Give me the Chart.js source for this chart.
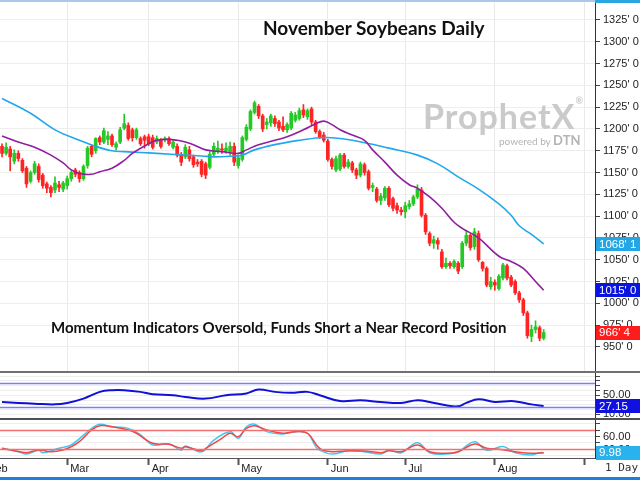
<!DOCTYPE html>
<html>
<head>
<meta charset="utf-8">
<script src="https://cdn.jsdelivr.net/npm/chart.js@4.4.1/dist/chart.umd.min.js"></script>
<style>
  html, body { margin: 0; padding: 0; background: #fff; }
  #wrap { position: relative; width: 640px; height: 480px; overflow: hidden; background: #fff; }
  canvas { position: absolute; left: 0; }
  #priceCanvas { top: 0; }
  #rsiCanvas { top: 373px; }
  #stochCanvas { top: 420px; }
  .bar { position: absolute; left: 0; width: 640px; }
  .txt { position: absolute; white-space: nowrap; font-family: Lato, "Open Sans", sans-serif; font-weight: bold; color: #111; }
</style>
</head>
<body>
<div id="wrap">
  <canvas id="priceCanvas" width="640" height="371"></canvas>
  <canvas id="rsiCanvas" width="640" height="45"></canvas>
  <canvas id="stochCanvas" width="640" height="58"></canvas>

  <div class="bar" style="top:0;height:2px;background:#a9c8ee;"></div>
  <div class="bar" style="top:0;left:595px;width:45px;height:3px;background:#2aa7e3;"></div>
  <div class="bar" style="top:371px;height:2px;background:#707070;"></div>
  <div class="bar" style="top:418px;height:2px;background:#505050;"></div>
  <div class="bar" style="top:477px;height:3px;background:#1f7fe0;"></div>

  <div class="txt" style="left:263px;top:16px;font-size:19px;">November Soybeans Daily</div>
  <div class="txt" style="left:51px;top:318px;font-size:15px;">Momentum Indicators Oversold, Funds Short a Near Record Position</div>
  <div class="txt" style="left:423px;top:95px;font-size:34px;color:#cacaca;letter-spacing:1px;">ProphetX<span style="font-size:9px;vertical-align:top;">&reg;</span></div>
  <div class="txt" style="left:499px;top:132px;font-size:10px;font-weight:normal;color:#b4b4b4;">powered by <span style="font-weight:bold;font-size:13px;">DTN</span></div>
  <div class="txt" style="left:605px;top:461px;font-size:11px;font-weight:normal;color:#333;font-family:'DejaVu Sans Mono', monospace;">1 Day</div>
</div>

<script>
  // November soybeans daily candles, Feb 7 – Aug 19 (trading day index 0..133)
  const openPrices = [
    1180, 1172, 1177, 1163, 1172, 1164, 1155, 1140, 1150, 1157, 1147, 1137, 1133, 1130, 1136, 1131,
    1135, 1143, 1153, 1150, 1143, 1158, 1180, 1175, 1190, 1185, 1188, 1192, 1179, 1185, 1201, 1204, 1199, 1190, 1189, 1191,
    1191, 1190, 1185, 1187, 1188, 1189, 1179, 1180, 1171, 1168, 1176, 1168, 1162, 1163, 1160, 1156, 1171, 1175, 1177, 1175, 1173, 1180,
    1158, 1165, 1188, 1200, 1219, 1226, 1215, 1205, 1207, 1212, 1208, 1203, 1199, 1201, 1210, 1212, 1222, 1214, 1223, 1208, 1197, 1193,
    1186, 1165, 1153, 1154, 1170, 1157, 1161, 1153, 1147, 1159, 1151, 1133, 1131, 1118, 1121, 1132, 1120, 1112, 1107,
    1105, 1111, 1114, 1122, 1130, 1101, 1080, 1069, 1072, 1059, 1042, 1046, 1042, 1046, 1042, 1069, 1078, 1065, 1080, 1047, 1040, 1019,
    1024, 1017, 1029, 1043, 1030, 1025, 1012, 1004, 989, 962, 970, 972, 960
  ];
  const highPrices = [
    1183, 1184, 1180, 1176, 1175, 1166, 1157, 1152, 1163, 1160, 1149, 1139, 1135, 1145, 1140, 1140,
    1146, 1152, 1155, 1152, 1159, 1180, 1182, 1190, 1192, 1201, 1197, 1194, 1185, 1202, 1217, 1207, 1201, 1201, 1191, 1193,
    1194, 1193, 1192, 1189, 1191, 1191, 1187, 1183, 1173, 1182, 1180, 1170, 1165, 1165, 1162, 1174, 1184, 1186, 1183, 1184, 1185, 1184,
    1170, 1192, 1205, 1222, 1232, 1228, 1217, 1212, 1217, 1215, 1210, 1214, 1207, 1220, 1219, 1224, 1228, 1223, 1225, 1210, 1199, 1196,
    1188, 1167, 1169, 1172, 1172, 1165, 1163, 1155, 1162, 1161, 1153, 1138, 1133, 1126, 1134, 1134, 1122, 1115, 1110,
    1116, 1118, 1124, 1136, 1133, 1103, 1082, 1077, 1075, 1062, 1052, 1048, 1050, 1048, 1071, 1083, 1080, 1086, 1083, 1048, 1042, 1030,
    1027, 1033, 1046, 1045, 1032, 1027, 1014, 1006, 991, 975, 980, 974, 970
  ];
  const lowPrices = [
    1168, 1170, 1152, 1160, 1163, 1150, 1133, 1138, 1148, 1139, 1132, 1127, 1122, 1127, 1128, 1128,
    1131, 1140, 1145, 1139, 1141, 1155, 1168, 1172, 1182, 1183, 1182, 1180, 1176, 1183, 1199, 1187, 1186, 1188, 1181, 1178,
    1181, 1177, 1183, 1178, 1185, 1181, 1177, 1168, 1158, 1166, 1163, 1156, 1157, 1145, 1143, 1154, 1168, 1172, 1172, 1172, 1170, 1158,
    1155, 1163, 1186, 1198, 1217, 1212, 1197, 1200, 1203, 1203, 1198, 1197, 1196, 1199, 1208, 1210, 1213, 1211, 1205, 1195, 1189, 1185,
    1163, 1154, 1151, 1152, 1155, 1155, 1150, 1143, 1145, 1147, 1130, 1128, 1116, 1113, 1118, 1111, 1106, 1103, 1101,
    1098, 1108, 1112, 1120, 1099, 1079, 1066, 1063, 1062, 1040, 1040, 1040, 1040, 1034, 1040, 1066, 1061, 1062, 1048, 1037, 1019, 1016,
    1015, 1015, 1027, 1027, 1019, 1010, 1001, 986, 960, 956, 966, 957, 958
  ];
  const closePrices = [
    1172, 1179, 1168, 1172, 1166, 1152, 1137, 1150, 1160, 1142, 1135, 1132, 1127, 1138, 1133, 1138,
    1143, 1150, 1148, 1143, 1157, 1178, 1171, 1189, 1185, 1198, 1192, 1182, 1183, 1199, 1206, 1189, 1190, 1199, 1183, 1187,
    1183, 1179, 1189, 1180, 1189, 1183, 1185, 1170, 1162, 1179, 1166, 1159, 1160, 1148, 1147, 1171, 1180, 1178, 1176, 1178, 1180, 1162,
    1167, 1190, 1202, 1220, 1230, 1215, 1200, 1208, 1215, 1206, 1201, 1199, 1205, 1218, 1216, 1221, 1216, 1221, 1208, 1197, 1191, 1187,
    1165, 1157, 1166, 1170, 1157, 1162, 1153, 1147, 1160, 1150, 1132, 1135, 1118, 1123, 1132, 1113, 1109, 1107, 1105,
    1112, 1114, 1122, 1131, 1101, 1082, 1069, 1073, 1068, 1042, 1046, 1043, 1048, 1037, 1069, 1078, 1064, 1082, 1050, 1040, 1021, 1025,
    1021, 1031, 1044, 1029, 1021, 1012, 1004, 989, 963, 970, 973, 960, 966.5
  ];

  // moving averages (index, price)
  const ma20Idx = [0, 4, 8, 12, 15, 17, 19, 22, 24, 27, 30, 32, 36, 38, 41, 43, 45, 47, 50, 54, 58, 60, 63, 67, 70, 74, 77, 79, 81, 83, 86, 89, 91, 94, 97, 100, 102, 105, 108, 111, 113, 117, 122, 125, 128, 131, 133];
  const ma20Val = [1192, 1185, 1179, 1170, 1161, 1153, 1149, 1148, 1151, 1155, 1164, 1172, 1183, 1187, 1188, 1187, 1185, 1182, 1176, 1174, 1172, 1176, 1182, 1187, 1191, 1199, 1206, 1209, 1205, 1199, 1193, 1187, 1176, 1162, 1147, 1136, 1132, 1122, 1109, 1093, 1086, 1075, 1054, 1048, 1040, 1025, 1015];
  const ma50Idx = [0, 7, 13, 19, 23, 27, 30, 34, 38, 45, 49, 52, 57, 59, 62, 67, 73, 78, 81, 86, 95, 102, 107, 112, 117, 122, 125, 127, 130, 133];
  const ma50Val = [1235, 1218, 1199, 1187, 1180, 1175, 1174, 1173, 1172, 1170, 1169, 1168, 1169, 1170, 1176, 1182, 1187, 1190, 1190, 1187, 1178, 1170, 1160, 1145, 1131, 1114, 1101, 1089, 1079, 1068.125];

  // momentum (RSI-style) panel
  const rsiIdx = [0, 4, 8, 13, 16, 20, 24, 27, 30, 34, 37, 42, 45, 50, 55, 60, 63, 67, 71, 75, 78, 83, 88, 93, 98, 102, 105, 109, 112, 114, 117, 121, 125, 127, 130, 133];
  const rsiVal = [36, 34, 32.5, 31, 34, 43, 57, 60.5, 60.5, 57, 52, 50, 46.4, 43, 50, 53.6, 62, 57, 55, 57, 50, 38, 39.5, 36, 34, 39.5, 36, 29, 27, 34, 41.6, 36, 38, 36, 31, 27.15];
  const rsiBands = [25, 75];

  // stochastic panel
  const stochKIdx = [0, 4, 6, 9, 10, 14, 17, 22, 24, 27, 31, 34, 37, 41, 44, 45, 49, 52, 56, 58, 60, 62, 65, 69, 72, 75, 77, 78, 81, 85, 89, 93, 95, 98, 102, 105, 109, 112, 116, 119, 123, 126, 130, 132, 133];
  const stochKVal = [24, 13, 6, 18, 10, 24, 34, 85, 98, 90, 85, 65, 34, 37, 18, 31, 13, 49, 75, 54, 90, 98, 75, 68, 75, 70, 29, 18, 6, 16, 13, 6, 18, 10, 41, 10, 6, 13, 44, 18, 29, 10, 3, 10, 9.98];
  const stochDIdx = [0, 3, 6, 9, 12, 15, 17, 19, 22, 24, 27, 31, 33, 37, 41, 44, 45, 49, 50, 54, 56, 58, 60, 62, 65, 69, 72, 75, 78, 81, 85, 89, 93, 95, 98, 102, 105, 109, 112, 116, 119, 122, 126, 130, 133];
  const stochDVal = [23.6, 16.3, 10.3, 18.5, 13.3, 18.5, 28.7, 44, 80, 93, 90, 80, 70, 39, 36, 23.6, 28.7, 16.3, 23.6, 54.5, 70, 59.5, 85, 93, 80, 70, 75, 70, 23.6, 13.3, 16.3, 15.4, 10.3, 16.3, 13.3, 34, 13.3, 8.3, 13.3, 37, 23.6, 20.6, 13.3, 8.3, 10.3];
  const stochBands = [20, 80];

  // axes
  const priceTicks = [950, 975, 1000, 1025, 1050, 1075, 1100, 1125, 1150, 1175, 1200, 1225, 1250, 1275, 1300, 1325];
  const rsiTicks = [0, 10, 20, 30, 40, 50, 60, 70, 80, 90];
  const rsiLabelled = [10, 50];
  const stochTicks = [0, 20, 40, 60, 80, 100];
  const stochLabelled = [20, 60];
  const monthLabels = ['Feb', 'Mar', 'Apr', 'May', 'Jun', 'Jul', 'Aug', 'Sep'];
  const monthStart = [-4, 16, 36, 58, 80, 99, 121, 143];

  const X_MIN = -0.5;
  const X_MAX = 145.6;
  const AXIS_W = 45;
  const UP = '#25c825';
  const DOWN = '#ff2323';
  const AXIS_FONT = { family: "'Liberation Sans', Arial, sans-serif", size: 11 };

  function points(xs, ys) {
    return xs.map((x, i) => ({ x, y: ys[i] }));
  }

  function fmtPrice(v) {
    const whole = Math.floor(v);
    return whole + "' " + Math.round((v - whole) * 8);
  }

  function candleColor(ctx) {
    return closePrices[ctx.dataIndex] >= openPrices[ctx.dataIndex] ? UP : DOWN;
  }

  function hiddenX() {
    return {
      type: 'linear', min: X_MIN, max: X_MAX, offset: false,
      afterBuildTicks: (s) => { s.ticks = monthStart.map((v) => ({ value: v })); },
      ticks: { display: false },
      border: { display: false },
      grid: { display: false, offset: false },
      afterFit: (s) => { s.height = 0; },
    };
  }

  function rightAxis(min, max, tickValues, label) {
    return {
      position: 'right', min, max,
      afterBuildTicks: (s) => { s.ticks = tickValues.map((v) => ({ value: v })); },
      ticks: { autoSkip: false, color: '#222', font: AXIS_FONT, padding: 3, callback: label },
      grid: { color: '#eeeeee', tickLength: 5, tickColor: '#444' },
      border: { display: true, color: '#333', width: 1 },
      afterFit: (s) => { s.width = AXIS_W; s.paddingTop = 0; s.paddingBottom = 0; },
    };
  }

  // value tags in the right axis + horizontal band lines
  const decor = {
    id: 'decor',
    afterDatasetsDraw(chart, args, opts) {
      const { ctx, chartArea } = chart;
      const y = chart.scales.y;
      (opts.bands || []).forEach((b) => {
        const py = Math.round(y.getPixelForValue(b)) + 0.5;
        ctx.save();
        ctx.strokeStyle = opts.bandColor;
        ctx.lineWidth = 1.5;
        ctx.beginPath();
        ctx.moveTo(chartArea.left, py);
        ctx.lineTo(chartArea.right, py);
        ctx.stroke();
        ctx.restore();
      });
    },
    afterDraw(chart, args, opts) {
      const { ctx, chartArea } = chart;
      const y = chart.scales.y;
      (opts.tags || []).forEach((t) => {
        const py = y.getPixelForValue(t.value);
        ctx.save();
        ctx.fillStyle = t.bg;
        ctx.fillRect(chartArea.right + 1, Math.round(py - 7), AXIS_W, 14);
        ctx.fillStyle = t.fg;
        ctx.font = '11.5px ' + AXIS_FONT.family;
        ctx.textBaseline = 'middle';
        ctx.fillText(t.text, chartArea.right + 4, py + 0.5);
        ctx.restore();
      });
      if (opts.monthText) {
        const x = chart.scales.x;
        ctx.save();
        ctx.font = '11px ' + AXIS_FONT.family;
        ctx.fillStyle = '#222';
        ctx.textBaseline = 'middle';
        monthStart.forEach((m, i) => {
          const px = x.getPixelForValue(m) + 3;
          const w = ctx.measureText(monthLabels[i]).width;
          if (px + w < chartArea.right) ctx.fillText(monthLabels[i], px, chartArea.bottom + 11);
        });
        ctx.restore();
      }
    },
  };

  const priceX = hiddenX();
  priceX.grid = { display: true, drawTicks: false, color: '#e9e9e9', offset: false };

  new Chart(document.getElementById('priceCanvas'), {
    type: 'bar',
    data: {
      datasets: [
        { type: 'line', data: points(ma20Idx, ma20Val), borderColor: '#8f1f9f', borderWidth: 1.6, pointRadius: 0, tension: 0.4, order: 0 },
        { type: 'line', data: points(ma50Idx, ma50Val), borderColor: '#22a6ee', borderWidth: 1.6, pointRadius: 0, tension: 0.4, order: 0 },
        { data: openPrices.map((o, i) => ({ x: i, y: [o, closePrices[i]] })), backgroundColor: candleColor, barThickness: 3, minBarLength: 1, grouped: false, order: 1 },
        { data: lowPrices.map((l, i) => ({ x: i, y: [l, highPrices[i]] })), backgroundColor: candleColor, barThickness: 1, grouped: false, order: 2 },
      ],
    },
    options: {
      responsive: false, animation: false,
      layout: { padding: 0 },
      plugins: {
        legend: { display: false }, tooltip: { enabled: false },
        decor: {
          tags: [
            { value: ma50Val[ma50Val.length - 1], text: fmtPrice(ma50Val[ma50Val.length - 1]), bg: '#22a6e6', fg: '#fff' },
            { value: ma20Val[ma20Val.length - 1], text: fmtPrice(ma20Val[ma20Val.length - 1]), bg: '#0a14e0', fg: '#fff' },
            { value: closePrices[closePrices.length - 1], text: fmtPrice(closePrices[closePrices.length - 1]), bg: '#ff1c1c', fg: '#fff' },
          ],
        },
      },
      scales: {
        x: priceX,
        y: rightAxis(922.4, 1347.9, priceTicks, (v) => fmtPrice(v)),
      },
    },
    plugins: [decor],
  });

  new Chart(document.getElementById('rsiCanvas'), {
    type: 'line',
    data: {
      datasets: [
        { data: points(rsiIdx, rsiVal), borderColor: '#1010d8', borderWidth: 2, pointRadius: 0, tension: 0.4 },
      ],
    },
    options: {
      responsive: false, animation: false,
      layout: { padding: 0 },
      plugins: {
        legend: { display: false }, tooltip: { enabled: false },
        decor: {
          bands: rsiBands, bandColor: '#7d7dfa',
          tags: [{ value: rsiVal[rsiVal.length - 1], text: rsiVal[rsiVal.length - 1].toFixed(2), bg: '#1010e0', fg: '#fff' }],
        },
      },
      scales: {
        x: hiddenX(),
        y: rightAxis(2.6, 96.3, rsiTicks, (v) => (rsiLabelled.includes(v) ? v.toFixed(2) : '')),
      },
    },
    plugins: [decor],
  });

  const stochX = hiddenX();
  stochX.grid = { display: true, drawOnChartArea: false, drawTicks: true, tickLength: 7, tickColor: '#555', tickWidth: 2, offset: false };
  stochX.border = { display: true, color: '#555', width: 1 };
  stochX.afterFit = (s) => { s.height = 20; };

  new Chart(document.getElementById('stochCanvas'), {
    type: 'line',
    data: {
      datasets: [
        { data: points(stochDIdx, stochDVal), borderColor: '#f04848', borderWidth: 1.5, pointRadius: 0, tension: 0.4 },
        { data: points(stochKIdx, stochKVal), borderColor: '#45c6f2', borderWidth: 1.5, pointRadius: 0, tension: 0.4 },
      ],
    },
    options: {
      responsive: false, animation: false,
      layout: { padding: 0 },
      plugins: {
        legend: { display: false }, tooltip: { enabled: false },
        decor: {
          bands: stochBands, bandColor: '#f47070', monthText: true,
          tags: [{ value: stochKVal[stochKVal.length - 1], text: stochKVal[stochKVal.length - 1].toFixed(2), bg: '#29b2ec', fg: '#fff' }],
        },
      },
      scales: {
        x: stochX,
        y: rightAxis(-6.2, 110.8, stochTicks, (v) => (stochLabelled.includes(v) ? v.toFixed(2) : '')),
      },
    },
    plugins: [decor],
  });
</script>
</body>
</html>
